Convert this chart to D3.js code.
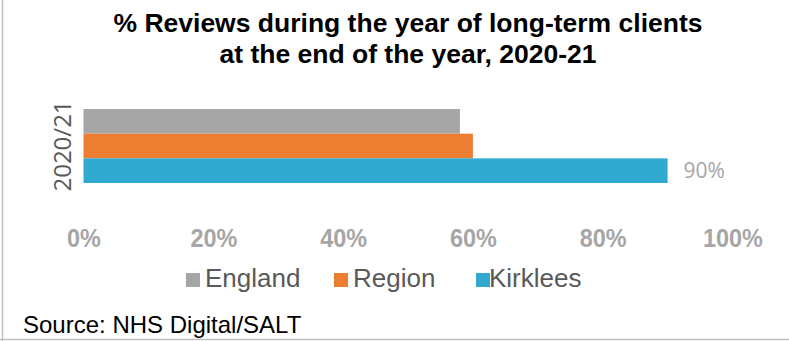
<!DOCTYPE html>
<html>
<head>
<meta charset="utf-8">
<script src="https://cdn.jsdelivr.net/npm/d3@7/dist/d3.min.js"></script>
<style>
  html, body { margin: 0; padding: 0; background: #fff; }
  svg { display: block; }
</style>
</head>
<body>
<svg id="chart" width="789" height="341"></svg>
<script>
// Chart data
const categories = ["2020/21"];
const seriesNames = ["England", "Region", "Kirklees"];
const seriesValues = [0.58, 0.60, 0.90];           // share of reviews, per series
const labelledSeries = ["Kirklees"];                // series carrying a value label
const xTicks = [0, 0.2, 0.4, 0.6, 0.8, 1.0];
const titleLines = ["% Reviews during the year of long-term clients", "at the end of the year, 2020-21"];
const sourceText = "Source: NHS Digital/SALT";

const colors = { England: "#A5A5A5", Region: "#ED7D31", Kirklees: "#31AAD2" };

const svg = d3.select("#chart");
const W = 789, H = 341;

svg.append("rect").attr("width", W).attr("height", H).attr("fill", "#fff");

// Frame: left and bottom edges only
svg.append("line").attr("x1", 2.5).attr("x2", 2.5).attr("y1", 0).attr("y2", H)
  .attr("stroke", "#BFBFBF").attr("stroke-width", 1.5);
svg.append("line").attr("x1", 0).attr("x2", W).attr("y1", 339.5).attr("y2", 339.5)
  .attr("stroke", "#BFBFBF").attr("stroke-width", 1.5);

// Title
svg.append("text")
  .attr("x", 408).attr("y", 32)
  .attr("text-anchor", "middle")
  .attr("font-family", "Liberation Sans, Arial, sans-serif")
  .attr("font-weight", "bold").attr("font-size", 26.5).attr("fill", "#000")
  .selectAll("tspan").data(titleLines).join("tspan")
  .attr("x", 408).attr("dy", (d, i) => i === 0 ? 0 : 31)
  .text(d => d);

// Scales
const x = d3.scaleLinear().domain([0, 1]).range([83.5, 732.5]);
const y0 = d3.scaleBand().domain(categories).range([72, 220]).paddingOuter(0.5).paddingInner(0);
const y1 = d3.scaleBand().domain(seriesNames).range([0, y0.bandwidth()]);

const rows = categories.map(c => ({
  category: c,
  values: seriesNames.map((s, i) => ({ series: s, value: seriesValues[i] }))
}));

const groups = svg.append("g").selectAll("g").data(rows).join("g")
  .attr("transform", d => `translate(0,${y0(d.category)})`);

groups.selectAll("rect").data(d => d.values).join("rect")
  .attr("x", x(0))
  .attr("y", d => y1(d.series))
  .attr("width", d => x(d.value) - x(0))
  .attr("height", y1.bandwidth())
  .attr("fill", d => colors[d.series]);

groups.selectAll("text.value").data(d => d.values.filter(v => labelledSeries.includes(v.series))).join("text")
  .attr("class", "value")
  .attr("x", d => x(d.value) + 16)
  .attr("y", d => y1(d.series) + y1.bandwidth() / 2)
  .attr("dy", "0.36em")
  .attr("font-family", "Open Sans, sans-serif")
  .attr("font-size", 21).attr("fill", "#A6A6A6")
  .text(d => d3.format(".0%")(d.value));

// Category axis label (rotated)
svg.append("g").selectAll("text").data(categories).join("text")
  .attr("transform", d => `translate(71,${y0(d) + y0.bandwidth() / 2}) rotate(-90)`)
  .attr("text-anchor", "middle")
  .attr("font-family", "Open Sans, sans-serif")
  .attr("font-size", 24).attr("fill", "#595959")
  .text(d => d);

// Value axis
const xAxis = d3.axisBottom(x).tickValues(xTicks).tickFormat(d3.format(".0%")).tickSize(0).tickPadding(0);
const axisG = svg.append("g").attr("transform", "translate(0,228)").call(xAxis);
axisG.select(".domain").remove();
axisG.selectAll("text")
  .attr("dy", "0.72em")
  .attr("font-family", "Liberation Sans, Arial, sans-serif")
  .attr("font-weight", "bold").attr("font-size", 26).attr("fill", "#A6A6A6")
  .each(function () {
    const t = d3.select(this);
    t.attr("textLength", this.getComputedTextLength() * 0.9).attr("lengthAdjust", "spacingAndGlyphs");
  });

// Legend
const legendX = [186, 334, 476];
const legend = svg.append("g").selectAll("g").data(seriesNames).join("g")
  .attr("transform", (d, i) => `translate(${legendX[i]},273)`);
legend.append("rect").attr("width", 14).attr("height", 14).attr("fill", d => colors[d]);
legend.append("text")
  .attr("x", (d, i) => i === 2 ? 13 : 19).attr("y", 14)
  .attr("font-family", "Liberation Sans, Arial, sans-serif")
  .attr("font-size", 26).attr("fill", "#595959")
  .text(d => d);

// Source note
svg.append("text")
  .attr("x", 23).attr("y", 333)
  .attr("font-family", "Liberation Sans, Arial, sans-serif")
  .attr("font-size", 24).attr("fill", "#000")
  .text(sourceText);
</script>
</body>
</html>
